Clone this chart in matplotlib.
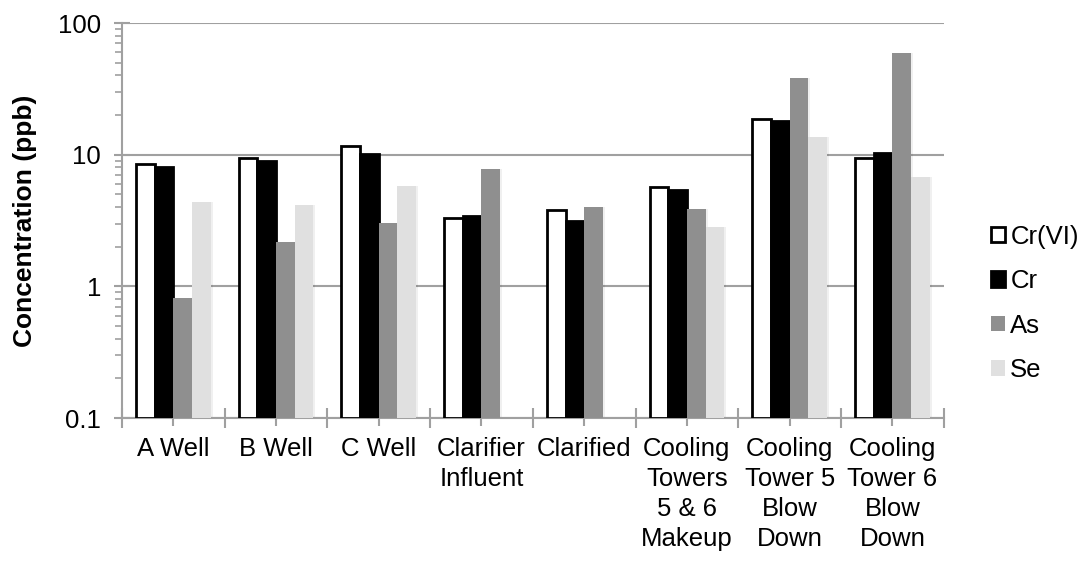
import matplotlib
matplotlib.use("Agg")
import matplotlib.pyplot as plt
import numpy as np
from matplotlib.ticker import FixedLocator, NullFormatter, LogLocator

plt.rcParams['font.family'] = ['Liberation Sans', 'DejaVu Sans']

# data (ppb)
sites = ["A Well", "B Well", "C Well", "Clarifier\nInfluent", "Clarified",
         "Cooling\nTowers\n5 & 6\nMakeup", "Cooling\nTower 5\nBlow\nDown",
         "Cooling\nTower 6\nBlow\nDown"]
cr6 = [8.4, 9.3, 11.6, 3.2, 3.7, 5.6, 18.5, 9.3]
cr = [7.9, 8.8, 10.0, 3.3, 3.05, 5.3, 17.9, 10.2]
as_ = [0.71, 2.06, 2.94, 7.65, 3.9, 3.75, 38.2, 59.2]
se = [4.3, 4.08, 5.65, np.nan, np.nan, 2.74, 13.5, 6.7]

series = [("Cr(VI)", cr6, "white", "black"),
          ("Cr", cr, "black", "black"),
          ("As", as_, "#8f8f8f", "none"),
          ("Se", se, "#e0e0e0", "none")]

fig = plt.figure(figsize=(10.86, 5.61), dpi=100)
ax = fig.add_axes([0.1123, 0.2549, 0.869 - 0.1123, 0.959 - 0.2549])

x = np.arange(len(sites))
w = 0.182
for i, (name, vals, fc, ec) in enumerate(series):
    pos = x + (i - 1.5) * w
    # faint shadow
    ax.bar(pos + 0.02, vals, w, bottom=0.1, color="#000000", alpha=0.06,
           zorder=2, linewidth=0)
    ax.bar(pos, vals, w, bottom=0.1, color=fc, edgecolor=ec,
           linewidth=2 if ec != "none" else 0, label=name, zorder=3)

ax.set_yscale("log")
ax.set_ylim(0.1, 100)
ax.set_xlim(-0.5, len(sites) - 0.5)

grey = "#a0a0a0"
ax.yaxis.set_major_locator(FixedLocator([0.1, 1, 10, 100]))
ax.set_yticklabels(["0.1", "1", "10", "100"])
ax.yaxis.set_minor_locator(LogLocator(base=10, subs=np.arange(2, 10)))
ax.yaxis.set_minor_formatter(NullFormatter())
ax.grid(axis="y", which="major", color=grey, linewidth=1.5, zorder=0)

ax.set_xticks(np.arange(len(sites) + 1) - 0.5)
ax.set_xticklabels([])
ax.set_xticks(x, minor=True)
ax.set_xticklabels(sites, minor=True, fontsize=18.5, linespacing=1.3)

ax.tick_params(axis="y", which="major", direction="inout", length=12,
               width=1.5, color=grey, labelsize=18.5, pad=9)
ax.tick_params(axis="y", which="minor", direction="out", length=5,
               width=1.2, color=grey)
ax.tick_params(axis="x", which="major", direction="inout", length=14,
               width=1.5, color=grey)
ax.tick_params(axis="x", which="minor", direction="out", length=6,
               width=1.5, color=grey, pad=8)

for s in ["top", "right"]:
    ax.spines[s].set_visible(False)
for s in ["left", "bottom"]:
    ax.spines[s].set_color(grey)
    ax.spines[s].set_linewidth(1.5)

ax.set_ylabel("Concentration (ppb)", fontsize=19, fontweight="bold", labelpad=15)

ax.legend(loc="center left", bbox_to_anchor=(1.045, 0.29), frameon=False,
          borderaxespad=0, fontsize=18.5, handlelength=0.55, handleheight=0.55,
          handletextpad=0.2, labelspacing=0.8)

fig.savefig("out.png", dpi=100)
